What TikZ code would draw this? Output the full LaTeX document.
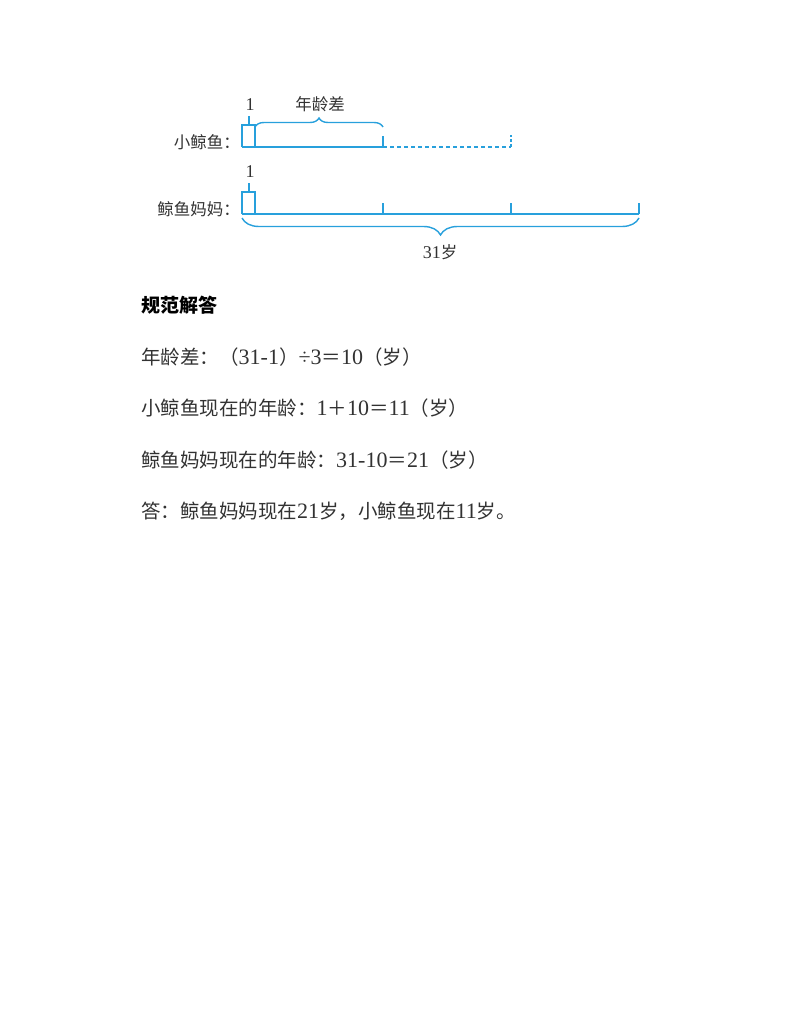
\documentclass[tikz,border=0pt]{standalone}
\usepackage{fontspec}
\setmainfont{Liberation Serif}
\newfontfamily\cjk{Noto Sans CJK SC}
\newcommand{\C}[1]{{\cjk #1}}
\newcommand{\D}[1]{{\fontsize{22}{22}\selectfont #1}}
\newcommand{\Dl}[1]{{\fontsize{18}{18}\selectfont #1}}
\usetikzlibrary{decorations.pathreplacing}
\definecolor{segblue}{RGB}{40,160,220}
\definecolor{bodytext}{RGB}{50,50,50}
\tikzset{
  seg/.style={segblue,line width=2.4pt},
  tick/.style={segblue,line width=1.6pt},
  dashseg/.style={segblue,line width=1.5pt,dash pattern=on 4pt off 3pt},
  unitbox/.style={segblue,line width=1.5pt},
  bracetop/.style={segblue,line width=1.4pt,decorate,decoration={brace,amplitude=9pt}},
  bracebot/.style={segblue,line width=1.4pt,decorate,decoration={brace,amplitude=17pt}},
  lab/.style={inner sep=0pt,font=\fontsize{16.5}{18}\selectfont,text=bodytext},
  num/.style={inner sep=0pt,font=\fontsize{18}{18}\selectfont,text=bodytext},
  body/.style={inner sep=0pt,anchor=west,font=\fontsize{19.5}{22}\selectfont,text=bodytext},
  head/.style={inner sep=0pt,anchor=west,font=\fontsize{19}{22}\selectfont\cjk\bfseries,text=black}
}
\begin{document}
\begin{tikzpicture}[x=1pt,y=-1pt]
\useasboundingbox (0,0) rectangle (800,1035);
% top row (little whale)
\coordinate (a0) at (242,147);
\coordinate (a1) at (255,147);
\coordinate (a2) at (383,147);
\coordinate (a3) at (511,147);
\coordinate (a2t) at (383,136);
\coordinate (a3t) at (511,135);
\coordinate (abl) at (242,125);
\coordinate (abr) at (255,125);
\coordinate (astem) at (249,125);
\coordinate (astemt) at (249,116);
\coordinate (abs) at (255,127);
\coordinate (abe) at (383,127);
\draw[seg] (a0) -- (a2);
\draw[dashseg] (a2) -- (a3);
\draw[tick] (a2) -- (a2t);
\draw[segblue,line width=1.3pt,dash pattern=on 3pt off 2pt] (a3) -- (a3t);
\draw[unitbox] (a0) -- (abl) -- (abr) -- (a1);
\draw[unitbox] (astem) -- (astemt);
\draw[bracetop] (abs) -- (abe);
\node[num] (one1) at (250,105) {1};
\node[lab] (gap) at (320,104) {\C{年龄差}};
\node[lab,anchor=east] (small) at (240,142) {\C{小鲸鱼：}};
% bottom row (mother whale)
\coordinate (b0) at (242,214);
\coordinate (b1) at (255,214);
\coordinate (b2) at (383,214);
\coordinate (b3) at (511,214);
\coordinate (b4) at (639,214);
\coordinate (b2t) at (383,203);
\coordinate (b3t) at (511,203);
\coordinate (b4t) at (639,203);
\coordinate (bbl) at (242,192);
\coordinate (bbr) at (255,192);
\coordinate (bstem) at (249,192);
\coordinate (bstemt) at (249,183);
\coordinate (bbs) at (639,218);
\coordinate (bbe) at (242,218);
\draw[seg] (b0) -- (b4);
\draw[tick] (b2) -- (b2t);
\draw[tick] (b3) -- (b3t);
\draw[tick] (b4) -- (b4t);
\draw[unitbox] (b0) -- (bbl) -- (bbr) -- (b1);
\draw[unitbox] (bstem) -- (bstemt);
\draw[bracebot] (bbs) -- (bbe);
\node[num] (one2) at (250,172) {1};
\node[lab,anchor=east] (mom) at (240,209) {\C{鲸鱼妈妈：}};
\node[lab] (total) at (440,252) {\Dl{31}\C{岁}};
% solution text
\node[head] (h) at (141,305) {规范解答};
\node[body] (l1) at (141,357) {\C{年龄差：（}\D{31-1}\C{）}\D{÷3}\C{＝}\D{10}\C{（岁）}};
\node[body] (l2) at (141,408) {\C{小鲸鱼现在的年龄：}\D{1}\C{＋}\D{10}\C{＝}\D{11}\C{（岁）}};
\node[body] (l3) at (141,460) {\C{鲸鱼妈妈现在的年龄：}\D{31-10}\C{＝}\D{21}\C{（岁）}};
\node[body] (l4) at (141,511) {\C{答：鲸鱼妈妈现在}\D{21}\C{岁，小鲸鱼现在}\D{11}\C{岁。}};
\end{tikzpicture}
\end{document}
